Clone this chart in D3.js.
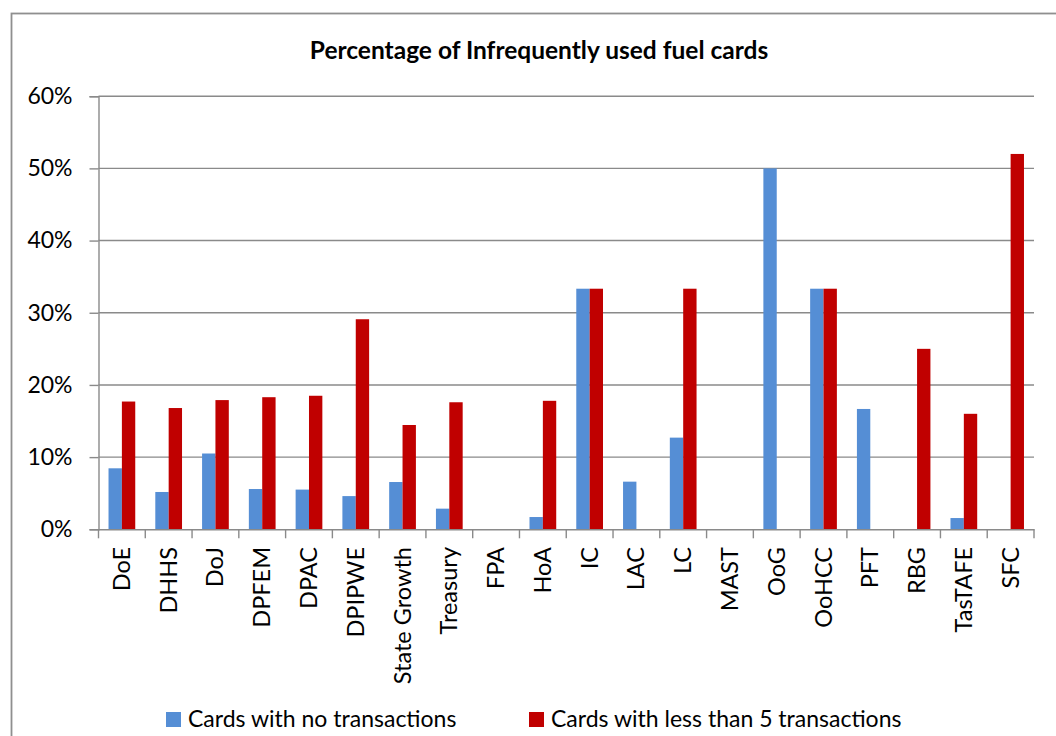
<!DOCTYPE html>
<html>
<head>
<meta charset="utf-8">
<script src="https://cdn.jsdelivr.net/npm/d3@7"></script>
<style>
  body { margin: 0; background: #fff; }
  svg text { font-family: Lato, "Open Sans", sans-serif; fill: #000; }
</style>
</head>
<body>
<svg id="chart" width="1056" height="736"></svg>
<script>
const categories = ["DoE", "DHHS", "DoJ", "DPFEM", "DPAC", "DPIPWE", "State Growth", "Treasury", "FPA", "HoA",
  "IC", "LAC", "LC", "MAST", "OoG", "OoHCC", "PFT", "RBG", "TasTAFE", "SFC"];
const seriesNames = ["Cards with no transactions", "Cards with less than 5 transactions"];
const noTransactions = [8.45, 5.17, 10.5, 5.58, 5.5, 4.6, 6.55, 2.86, 0, 1.7, 33.33, 6.6, 12.7, 0, 50, 33.33, 16.67, 0, 1.56, 0];
const lessThan5 = [17.7, 16.8, 17.9, 18.3, 18.5, 29.1, 14.45, 17.6, 0, 17.8, 33.33, 0, 33.33, 0, 0, 33.33, 0, 25, 16.0, 52.0];
const yTicks = [0, 10, 20, 30, 40, 50, 60];
const colors = ["#558ed5", "#c00000"];

const svg = d3.select("#chart");

// chart frame
svg.append("rect")
  .attr("x", 11.5).attr("y", 13.5)
  .attr("width", 1100).attr("height", 800)
  .attr("fill", "none").attr("stroke", "#8f8f8f").attr("stroke-width", 1.8);

const plotLeft = 98.5, plotRight = 1034, plotTop = 96.2, plotBottom = 529.3;

const x = d3.scaleBand().domain(categories).range([plotLeft, plotRight]).padding(0);
const xs = d3.scaleBand().domain(seriesNames).range([0, x.bandwidth()]).paddingInner(0).paddingOuter(0.75);
const y = d3.scaleLinear().domain([0, 60]).range([plotBottom, plotTop]);

// gridlines
svg.append("g")
  .selectAll("line")
  .data(yTicks.filter(d => d > 0))
  .enter()
  .append("line")
  .attr("x1", plotLeft).attr("x2", plotRight)
  .attr("y1", d => y(d)).attr("y2", d => y(d))
  .attr("stroke", "#8a8a8a").attr("stroke-width", 1.4);

// bars
const rows = categories.map((c, i) => ({ cat: c, vals: [noTransactions[i], lessThan5[i]] }));
const groups = svg.append("g")
  .selectAll("g")
  .data(rows)
  .enter()
  .append("g")
  .attr("transform", d => `translate(${x(d.cat)},0)`);

groups.selectAll("rect")
  .data(d => d.vals.map((v, j) => ({ name: seriesNames[j], v: v, j: j })))
  .enter()
  .append("rect")
  .attr("x", d => xs(d.name))
  .attr("width", xs.bandwidth())
  .attr("y", d => y(d.v))
  .attr("height", d => plotBottom - y(d.v))
  .attr("fill", d => colors[d.j]);

// y axis
const yAxis = svg.append("g")
  .attr("transform", `translate(${plotLeft},0)`)
  .call(d3.axisLeft(y).tickValues(yTicks).tickFormat(d => d + "%").tickSize(9).tickPadding(17));
yAxis.select(".domain").attr("stroke", "#8a8a8a").attr("stroke-width", 1.4);
yAxis.selectAll(".tick line").attr("stroke", "#8a8a8a").attr("stroke-width", 1.4);
yAxis.selectAll(".tick text")
  .attr("font-family", "Lato, sans-serif")
  .attr("font-size", 23)
  .attr("fill", "#000");

// x axis
const xAxis = svg.append("g")
  .attr("transform", `translate(0,${plotBottom})`)
  .call(d3.axisBottom(x).tickSize(0).tickFormat(""));
xAxis.select(".domain").attr("stroke", "#8a8a8a").attr("stroke-width", 1.4);

svg.append("g")
  .selectAll("line")
  .data(d3.range(categories.length + 1))
  .enter()
  .append("line")
  .attr("x1", i => plotLeft + i * x.step()).attr("x2", i => plotLeft + i * x.step())
  .attr("y1", plotBottom).attr("y2", plotBottom + 9)
  .attr("stroke", "#8a8a8a").attr("stroke-width", 1.4);

svg.append("g")
  .selectAll("text")
  .data(categories)
  .enter()
  .append("text")
  .attr("transform", d => `translate(${x(d) + x.bandwidth() / 2 + 8},547) rotate(-90)`)
  .attr("text-anchor", "end")
  .attr("font-size", 23.5)
  .text(d => d);

// title
svg.append("text")
  .attr("x", 539).attr("y", 59)
  .attr("text-anchor", "middle")
  .attr("font-size", 24.5)
  .attr("font-weight", "bold")
  .text("Percentage of Infrequently used fuel cards");

// legend
const legendX = [166, 529];
const legend = svg.append("g")
  .selectAll("g")
  .data(seriesNames)
  .enter()
  .append("g")
  .attr("transform", (d, i) => `translate(${legendX[i]},712)`);
legend.append("rect")
  .attr("width", 15).attr("height", 15)
  .attr("fill", (d, i) => colors[i]);
legend.append("text")
  .attr("x", 22).attr("y", 14.5)
  .attr("font-size", 23)
  .text(d => d);
</script>
</body>
</html>
